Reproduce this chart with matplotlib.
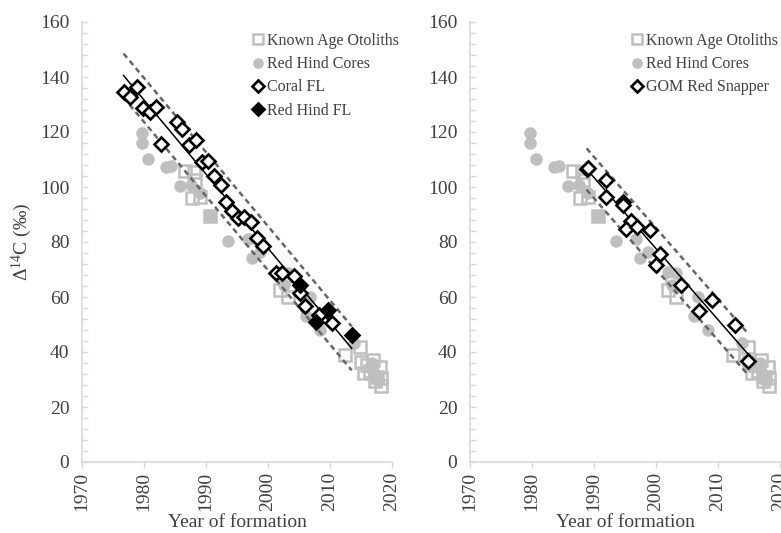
import numpy as np
import matplotlib
matplotlib.use("Agg")
import matplotlib.pyplot as plt
from matplotlib.ticker import MultipleLocator

plt.rcParams['font.family'] = ['Liberation Serif', 'DejaVu Serif']
plt.rcParams['mathtext.fontset'] = 'custom'
plt.rcParams['mathtext.rm'] = 'Liberation Serif'
plt.rcParams['mathtext.it'] = 'Liberation Serif:italic'

# ---------------- data ----------------
known_year = [1986.6, 1988.0, 1988.3, 1987.8, 1989.0, 1990.7, 2002.0, 2003.3, 2002.6,
              2012.4, 2014.9, 2015.0, 2015.5, 2016.0, 2016.5, 2017.0, 2017.5,
              2018.0, 2018.3, 2018.2, 2017.2]
known_val = [106.0, 105.5, 102.5, 96.0, 96.5, 89.5, 62.5, 60.0, 67.5,
             38.8, 42.0, 36.5, 32.3, 35.3, 33.0, 37.0, 31.0,
             34.5, 30.4, 27.6, 29.5]

cores_year = [1979.6, 1979.6, 1980.7, 1983.6, 1984.4, 1985.8, 1987.6, 1989.0, 1990.7,
              1993.6, 1996.8, 1997.4, 1998.7, 2001.9, 2002.5, 2003.3, 2006.8, 2006.2,
              2008.4, 2013.8, 2016.5, 2017.0, 2017.5, 2017.8, 2016.8]
cores_val = [119.8, 116.0, 110.3, 107.2, 107.6, 100.2, 100.8, 97.7, 89.5,
             80.5, 81.0, 74.1, 76.3, 69.2, 64.4, 68.8, 60.1, 53.2,
             48.0, 43.2, 34.5, 33.0, 31.2, 29.8, 36.0]

coral_year = [1976.7, 1977.7, 1978.8, 1979.9, 1980.9, 1981.9, 1982.8, 1985.3, 1986.1,
              1987.3, 1988.4, 1989.4, 1990.3, 1991.3, 1992.4, 1993.3, 1994.2, 1995.2,
              1996.2, 1997.3, 1998.3, 1999.2, 2001.3, 2002.2, 2004.2, 2005.2, 2005.9,
              2008.2, 2010.3]
coral_val = [134.7, 132.8, 136.2, 128.7, 127.4, 129.0, 115.8, 123.6, 121.0,
             115.4, 117.1, 109.0, 109.4, 104.1, 100.9, 94.7, 91.4, 88.6,
             89.0, 87.1, 81.3, 78.7, 68.8, 68.7, 67.5, 61.5, 56.9,
             53.6, 50.7]

rhfl_year = [2005.2, 2007.7, 2009.6, 2013.5]
rhfl_val = [64.4, 51.0, 55.2, 46.3]

gom_year = [1988.8, 1989.0, 1991.9, 1991.9, 1994.6, 1994.7, 1995.9, 1995.2, 1997.0,
            1999.0, 2000.7, 2000.0, 2004.0, 2009.0, 2007.0, 2012.8, 2014.9]
gom_val = [106.4, 107.0, 102.5, 96.5, 94.7, 93.5, 87.5, 84.6, 85.6,
           84.4, 75.5, 71.6, 64.2, 58.9, 54.8, 49.8, 36.8]

left_band = 8.0
right_band = 7.5

xlim = (1970, 2020)
ylim = (0, 160)
x_ticks = [1970, 1980, 1990, 2000, 2010, 2020]
y_ticks = [0, 20, 40, 60, 80, 100, 120, 140, 160]

# ---------------- styles ----------------
GRAY = '#bfbfbf'
TXT = '#404040'
SPINE = '#d9d9d9'
DASH = '#666666'

fig = plt.figure(figsize=(7.81, 5.33), dpi=100)
axL = fig.add_axes([82/781, 71/533, 310/781, 440/533])
axR = fig.add_axes([470/781, 71/533, 310/781, 440/533])


def style_axes(ax):
    ax.set_xlim(*xlim)
    ax.set_ylim(*ylim)
    ax.set_xticks(x_ticks)
    ax.set_yticks(y_ticks)
    ax.yaxis.set_minor_locator(MultipleLocator(4))
    for s in ['top', 'right']:
        ax.spines[s].set_visible(False)
    for s in ['left', 'bottom']:
        ax.spines[s].set_color(SPINE)
        ax.spines[s].set_linewidth(1.2)
    ax.tick_params(axis='y', which='both', direction='in', length=4, width=1,
                   color=SPINE, labelsize=14, labelcolor=TXT, pad=9)
    ax.tick_params(axis='x', which='major', direction='out', length=4, width=1,
                   color=SPINE, labelsize=14, labelcolor=TXT, pad=3,
                   labelrotation=90)
    ax.set_xlabel('Year of formation', fontsize=14, color=TXT, labelpad=2)


def fit_band(ax, yrs, vals, band):
    yrs = np.asarray(yrs)
    vals = np.asarray(vals)
    p = np.polyfit(yrs, vals, 1)
    xx = np.array([yrs.min(), yrs.max()])
    yy = np.polyval(p, xx)
    ax.plot(xx, yy, color='black', lw=1.1, zorder=4)
    ax.plot(xx, yy + band, color=DASH, lw=1.8, ls=(0, (2.2, 1.6)), zorder=4)
    ax.plot(xx, yy - band, color=DASH, lw=1.8, ls=(0, (2.2, 1.6)), zorder=4)


sq_kw = dict(ls='none', marker='s', ms=9, mfc='none', mec=GRAY, mew=1.8)
ci_kw = dict(ls='none', marker='o', ms=9, mfc=GRAY, mec=GRAY, mew=0)
od_kw = dict(ls='none', marker='D', ms=7, mfc='white', mec='black', mew=1.9)
fd_kw = dict(ls='none', marker='D', ms=7, mfc='black', mec='black', mew=1.9)

for ax in (axL, axR):
    style_axes(ax)

# Left panel
axL.plot(known_year, known_val, label='Known Age Otoliths', zorder=2, **sq_kw)
axL.plot(cores_year, cores_val, label='Red Hind Cores', zorder=1, **ci_kw)
fit_band(axL, coral_year + rhfl_year, coral_val + rhfl_val, left_band)
axL.plot(coral_year, coral_val, label='Coral FL', zorder=5, **od_kw)
axL.plot(rhfl_year, rhfl_val, label='Red Hind FL', zorder=6, **fd_kw)
axL.set_ylabel(r'$\Delta^{14}$C (‰)', fontsize=14, color=TXT, labelpad=4)

# Right panel
axR.plot(known_year, known_val, label='Known Age Otoliths', zorder=2, **sq_kw)
axR.plot(cores_year, cores_val, label='Red Hind Cores', zorder=1, **ci_kw)
fit_band(axR, gom_year, gom_val, right_band)
axR.plot(gom_year, gom_val, label='GOM Red Snapper', zorder=5, **od_kw)

leg_kw = dict(loc='upper left', frameon=False, fontsize=11.5, handlelength=0.8,
              handletextpad=0.15, labelspacing=0.45, borderpad=0, borderaxespad=0,
              labelcolor=TXT, markerscale=0.85)
axL.legend(bbox_to_anchor=(0.547, 0.975), **leg_kw)
axR.legend(bbox_to_anchor=(0.518, 0.975), **leg_kw)

fig.savefig('out.png', dpi=100)
